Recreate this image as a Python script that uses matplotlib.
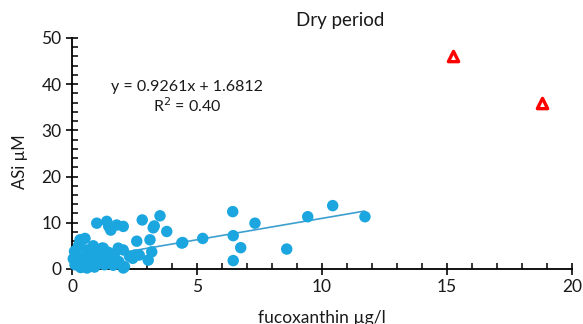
import numpy as np
import matplotlib
matplotlib.use("Agg")
import matplotlib.pyplot as plt
from matplotlib.ticker import MultipleLocator

# observed points (fucoxanthin, ASi)
fuco = [10.43, 9.43, 11.72, 7.32, 6.43, 6.45, 6.75, 8.59, 6.45, 5.23, 4.43,
        3.52, 2.81, 3.29, 3.79, 3.25, 3.12, 2.59, 4.39, 3.19, 3.05, 2.69, 2.43,
        2.52, 2.05, 0.99, 1.39, 1.79, 2.05, 1.55, 1.47, 0.52, 0.32, 0.40, 1.25,
        1.85, 0.20, 0.60, 1.20, 0.92, 1.60, 0.12, 0.67, 1.30, 1.87, 2.10, 0.40,
        2.05, 0.05, 0.25, 0.80, 1.05, 1.45, 0.35, 0.75, 1.65, 0.15, 0.55, 1.10,
        0.90, 1.35, 0.28, 2.30, 0.10, 0.45, 0.70, 1.00, 1.70, 0.60, 0.85]
asi = [13.7, 11.3, 11.3, 9.9, 12.4, 7.2, 4.6, 4.3, 1.8, 6.6, 5.7,
       11.5, 10.6, 9.3, 8.1, 8.9, 6.3, 6.0, 5.6, 3.7, 1.9, 3.0, 2.3,
       3.0, 4.1, 9.9, 10.3, 9.5, 9.2, 8.4, 9.2, 6.6, 6.3, 6.3, 4.5,
       4.5, 3.0, 4.1, 4.5, 2.4, 2.6, 0.9, 0.5, 0.9, 1.6, 0.5, 1.6,
       0.2, 2.2, 4.8, 3.2, 3.5, 3.6, 0.3, 1.2, 0.8, 1.9, 2.8, 1.4,
       0.4, 2.0, 5.2, 2.7, 3.8, 2.5, 2.0, 1.0, 3.3, 0.2, 5.0]

# outliers (red triangles)
fuco_out = [15.25, 18.79]
asi_out = [46.0, 36.0]

# trendline as printed on the chart
slope, intercept = 0.9261, 1.6812
fit_x = np.array([0.0, 11.7])

blue = "#1ba6e0"
ink = "#1a1a1a"
plt.rcParams["font.family"] = ["Lato", "DejaVu Sans"]

fig = plt.figure(figsize=(5.83, 3.24), dpi=100)
ax = fig.add_axes([0.1235, 0.170, 0.8575, 0.713])

ax.scatter(fuco, asi, s=68, color=blue, edgecolors="none", zorder=3,
           clip_on=False)
ax.plot(fit_x, slope * fit_x + intercept, color="#3d9fd0", lw=1.2, zorder=2)
ax.scatter(fuco_out, asi_out, marker="^", s=55, facecolors="white",
           edgecolors="red", linewidths=2.4, zorder=3)

ax.set_xlim(0, 20)
ax.set_ylim(0, 50)
ax.xaxis.set_major_locator(MultipleLocator(5))
ax.xaxis.set_minor_locator(MultipleLocator(1))
ax.yaxis.set_major_locator(MultipleLocator(10))
ax.yaxis.set_minor_locator(MultipleLocator(2))
for s in ("top", "right"):
    ax.spines[s].set_visible(False)
for s in ("left", "bottom"):
    ax.spines[s].set_linewidth(1.3)
ax.tick_params(which="major", direction="inout", length=9, width=1.3,
               labelsize=12.5, colors=ink, pad=3)
ax.tick_params(which="minor", direction="in", length=4, width=1.1)

ax.text(4.6, 39.4, "y = 0.9261x + 1.6812", ha="center", va="center",
        fontsize=11.5, color=ink)
ax.text(4.6, 35.3, "R$^2$ = 0.40", ha="center", va="center",
        fontsize=11.5, color=ink)

fig.text(0.583, 0.938, "Dry period", ha="center", va="center",
         fontsize=13.5, color=ink)
fig.text(0.552, 0.02, "fucoxanthin \u00b5g/l", ha="center", va="center",
         fontsize=12.5, color=ink)
fig.text(0.034, 0.50, "ASi \u00b5M", ha="center", va="center",
         rotation=90, fontsize=12, color=ink)

fig.savefig("out.png", dpi=100)
